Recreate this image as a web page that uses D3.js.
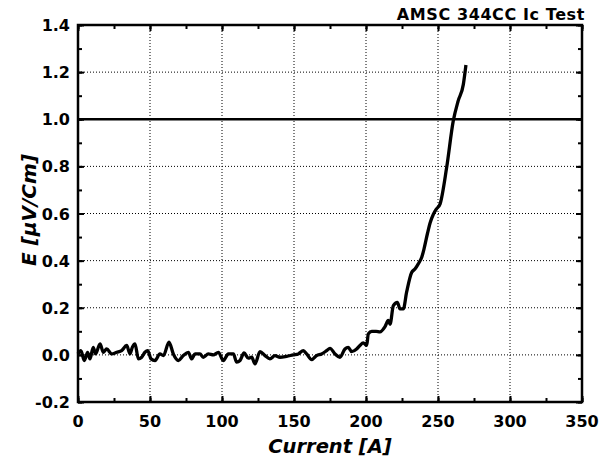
<!DOCTYPE html>
<html><head><meta charset="utf-8">
<script src="https://cdn.jsdelivr.net/npm/d3@7"></script>
<style>body{margin:0;background:#fff}svg{display:block}text{font-family:"DejaVu Sans",sans-serif;font-weight:bold;fill:#000}</style>
</head><body>
<svg id="c" width="601" height="461"></svg>
<script>
const title = "AMSC 344CC Ic Test";
const xLabel = "Current [A]";
const yLabel = "E [\u03BCV/Cm]";
const xTicks = [0,50,100,150,200,250,300,350];
const yTicks = [-0.2,0,0.2,0.4,0.6,0.8,1.0,1.2,1.4];
const criterion = 1.0;
const current = [0,2,4.4,6.7,8.3,10.6,12.2,15.3,17.6,19.9,23.4,26.9,30.3,33.8,36.1,37.7,39.6,41.9,44.2,46.5,48.4,50.7,53.5,56.9,59.3,63.2,66.2,69.7,73.1,76.6,79,81.3,84.7,87,90.5,94,97.5,100.9,104.4,107.9,110.2,112.5,115.3,118.3,120.6,122.9,126.4,129.9,133.3,136.8,140.3,144.9,149.5,153,156.5,158.8,162.3,165.7,169.2,172.7,175,178.5,181.9,185.4,187.7,190,193.5,195.8,198.1,200.5,201.6,204,207,209.7,213.2,215.5,216.7,219,221.8,223.6,225.9,228.2,231.7,234,236.3,238.7,240.3,242.6,244.5,246.8,249,251.4,256,260.6,264,267.6,269.4];
const field = [0.004,0.018,-0.024,0.011,-0.017,0.032,0.004,0.047,0.011,0.025,0.004,0.011,0.018,0.04,0.004,0.032,0.047,-0.017,-0.01,0.011,0.018,-0.017,-0.024,0.004,-0.003,0.054,0.004,-0.024,-0.003,0.011,-0.017,0.004,0.004,-0.01,0.004,0,0.011,-0.024,0.004,0.004,-0.031,-0.024,0.008,-0.014,-0.01,-0.038,0.014,-0.003,-0.017,-0.003,-0.01,-0.006,0,0.004,0.018,0.004,-0.02,-0.003,0.004,0.018,0.028,0.004,-0.01,0.025,0.032,0.014,0.025,0.04,0.051,0.04,0.089,0.1,0.1,0.098,0.12,0.146,0.13,0.209,0.223,0.195,0.195,0.266,0.35,0.364,0.386,0.414,0.45,0.513,0.56,0.597,0.62,0.64,0.795,0.993,1.078,1.148,1.23];

const svg = d3.select("#c");
const L=78, R=582, T=25, B=402;
const x = d3.scaleLinear().domain([0,350]).range([L,R]);
const y = d3.scaleLinear().domain([-0.2,1.4]).range([B,T]);

// grid
const g = svg.append("g").attr("stroke","#000").attr("stroke-width",1).attr("stroke-dasharray","1,2");
xTicks.slice(1,-1).forEach(v=>g.append("line").attr("x1",x(v)).attr("x2",x(v)).attr("y1",T).attr("y2",B));
yTicks.slice(1,-1).forEach(v=>g.append("line").attr("x1",L).attr("x2",R).attr("y1",y(v)).attr("y2",y(v)));

// criterion line
svg.append("line").attr("x1",L).attr("x2",R).attr("y1",y(criterion)).attr("y2",y(criterion)).attr("stroke","#000").attr("stroke-width",2.5);

// curve
const pts = current.map((c,i)=>[c,field[i]]);
svg.append("path").datum(pts).attr("fill","none").attr("stroke","#000").attr("stroke-width",3.3).attr("stroke-linejoin","round")
  .attr("d", d3.line().x(d=>x(d[0])).y(d=>y(d[1])).curve(d3.curveMonotoneX));

// axes with inward ticks
const xMinor = d3.range(0,351,25), yMinor = d3.range(-0.2,1.401,0.1);
const axB = d3.axisBottom(x).tickValues(xTicks).tickSize(-6).tickFormat("");
const axBm = d3.axisBottom(x).tickValues(xMinor).tickSize(-4).tickFormat("");
const axT = d3.axisTop(x).tickValues(xTicks).tickSize(-6).tickFormat("");
const axTm = d3.axisTop(x).tickValues(xMinor).tickSize(-4).tickFormat("");
const axL = d3.axisLeft(y).tickValues(yTicks).tickSize(-6).tickFormat("");
const axLm = d3.axisLeft(y).tickValues(yMinor).tickSize(-4).tickFormat("");
const axR = d3.axisRight(y).tickValues(yTicks).tickSize(-6).tickFormat("");
const axRm = d3.axisRight(y).tickValues(yMinor).tickSize(-4).tickFormat("");
[[axBm,`translate(0,${B})`],[axB,`translate(0,${B})`],[axTm,`translate(0,${T})`],[axT,`translate(0,${T})`],
 [axLm,`translate(${L},0)`],[axL,`translate(${L},0)`],[axRm,`translate(${R},0)`],[axR,`translate(${R},0)`]].forEach(([a,t])=>{
  const gg = svg.append("g").attr("transform",t).call(a);
  gg.select(".domain").remove();
  gg.selectAll("line").attr("stroke","#000").attr("stroke-width",2);
});
svg.append("rect").attr("x",L).attr("y",T).attr("width",R-L).attr("height",B-T).attr("fill","none").attr("stroke","#000").attr("stroke-width",2.5);

// tick labels
svg.append("g").selectAll("text").data(xTicks).join("text")
  .attr("x",d=>x(d)).attr("y",427).attr("text-anchor","middle").attr("font-size",16).text(d=>d);
svg.append("g").selectAll("text").data(yTicks).join("text")
  .attr("x",70).attr("y",d=>y(d)+6).attr("text-anchor","end").attr("font-size",16).text(d=>d3.format(".1f")(d).replace("−","-"));

// labels
svg.append("text").attr("x",585).attr("y",20).attr("text-anchor","end").attr("font-size",16).attr("letter-spacing",0.6).text(title);
svg.append("text").attr("x",330).attr("y",453).attr("text-anchor","middle").attr("font-size",19.5).attr("font-style","italic").text(xLabel);
svg.append("text").attr("transform","translate(36,210) rotate(-90)").attr("text-anchor","middle").attr("font-size",20).attr("font-style","italic").text(yLabel);
</script>
</body></html>
